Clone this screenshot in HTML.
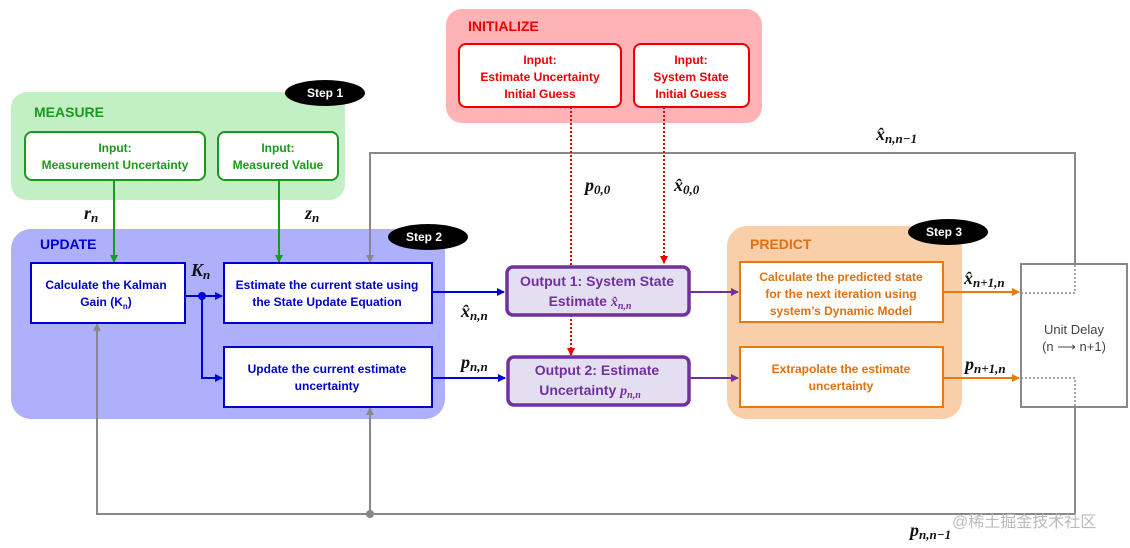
<!DOCTYPE html>
<html><head><meta charset="utf-8"><style>
body{margin:0;background:#fff}
svg{display:block;font-family:"Liberation Sans",sans-serif}
.m{font-family:"Liberation Serif",serif;font-style:italic;font-weight:bold}
.b{font-weight:bold}
</style></head><body>
<svg width="1130" height="548" viewBox="0 0 1130 548">
<defs>
<marker id="ag" markerWidth="8" markerHeight="8" refX="7" refY="4" orient="auto" markerUnits="userSpaceOnUse"><path d="M0,0 L8,4 L0,8z" fill="#1a9a1a"/></marker>
<marker id="ab" markerWidth="8" markerHeight="8" refX="7" refY="4" orient="auto" markerUnits="userSpaceOnUse"><path d="M0,0 L8,4 L0,8z" fill="#0000dd"/></marker>
<marker id="ar" markerWidth="8" markerHeight="8" refX="7" refY="4" orient="auto" markerUnits="userSpaceOnUse"><path d="M0,0 L8,4 L0,8z" fill="#e00"/></marker>
<marker id="ay" markerWidth="8" markerHeight="8" refX="7" refY="4" orient="auto" markerUnits="userSpaceOnUse"><path d="M0,0 L8,4 L0,8z" fill="#888"/></marker>
<marker id="ap" markerWidth="8" markerHeight="8" refX="7" refY="4" orient="auto" markerUnits="userSpaceOnUse"><path d="M0,0 L8,4 L0,8z" fill="#7030a0"/></marker>
<marker id="ao" markerWidth="8" markerHeight="8" refX="7" refY="4" orient="auto" markerUnits="userSpaceOnUse"><path d="M0,0 L8,4 L0,8z" fill="#e87a10"/></marker>
</defs>
<rect x="11" y="92" width="334" height="108" rx="16" fill="#c3efc4"/>
<rect x="446" y="9" width="316" height="114" rx="16" fill="#ffb3b6"/>
<rect x="11" y="229" width="434" height="190" rx="20" fill="#aeb0fb"/>
<rect x="727" y="226" width="235" height="193" rx="20" fill="#f8cfa8"/>
<g class="b" font-size="14">
<text x="34" y="117" fill="#1a9a1a">MEASURE</text>
<text x="468" y="31" fill="#e00">INITIALIZE</text>
<text x="40" y="249" fill="#0000cc">UPDATE</text>
<text x="750" y="249" fill="#e07010">PREDICT</text>
</g>
<g class="b" font-size="12" fill="#fff" text-anchor="middle">
<ellipse cx="325" cy="93" rx="40" ry="13" fill="#000"/><text x="325" y="97">Step 1</text>
<ellipse cx="428" cy="237" rx="40" ry="13" fill="#000"/><text x="424" y="241">Step 2</text>
<ellipse cx="948" cy="232" rx="40" ry="13" fill="#000"/><text x="944" y="236">Step 3</text>
</g>
<g stroke="#888" stroke-width="2" fill="none">
<path d="M370,262 V153 H1075 V264"/>
<path d="M1075,407 V514 H97 V326"/>
<path d="M370,514 V410"/>
</g>
<path d="M370,255 V262" stroke="#888" stroke-width="2" marker-end="url(#ay)"/>
<path d="M97,330 V324" stroke="#888" stroke-width="2" marker-end="url(#ay)"/>
<path d="M370,414 V408" stroke="#888" stroke-width="2" marker-end="url(#ay)"/>
<circle cx="370" cy="514" r="4" fill="#888"/>
<rect x="1021" y="264" width="106" height="143" fill="#fff" stroke="#888" stroke-width="2"/>
<g stroke="#888" stroke-width="1.5" stroke-dasharray="2,2" fill="none">
<path d="M1021,293 H1075 V264"/><path d="M1021,378 H1075 V407"/>
</g>
<text x="1074" y="334" font-size="13" fill="#444" text-anchor="middle">Unit Delay</text>
<text x="1074" y="351" font-size="13" fill="#444" text-anchor="middle">(n ⟶ n+1)</text>
<g fill="#fff" stroke="#1a9a1a" stroke-width="2">
<rect x="25" y="132" width="180" height="48" rx="7"/><rect x="218" y="132" width="120" height="48" rx="7"/>
</g>
<g fill="#1a9a1a" class="b" font-size="12" text-anchor="middle">
<text x="115" y="152">Input:</text><text x="115" y="169">Measurement Uncertainty</text>
<text x="278" y="152">Input:</text><text x="278" y="169">Measured Value</text>
</g>
<path d="M114,180 V262" stroke="#1a9a1a" stroke-width="2" marker-end="url(#ag)"/>
<path d="M279,180 V262" stroke="#1a9a1a" stroke-width="2" marker-end="url(#ag)"/>
<g fill="#fff" stroke="#e00" stroke-width="2">
<rect x="459" y="44" width="162" height="63" rx="7"/><rect x="634" y="44" width="115" height="63" rx="7"/>
</g>
<g fill="#e00" class="b" font-size="12" text-anchor="middle">
<text x="540" y="64">Input:</text><text x="540" y="81">Estimate Uncertainty</text><text x="540" y="98">Initial Guess</text>
<text x="691" y="64">Input:</text><text x="691" y="81">System State</text><text x="691" y="98">Initial Guess</text>
</g>
<g fill="#fff" stroke="#0000cc" stroke-width="2">
<rect x="31" y="263" width="154" height="60"/><rect x="224" y="263" width="208" height="60"/><rect x="224" y="347" width="208" height="60"/>
</g>
<g fill="#0000cc" class="b" font-size="12" text-anchor="middle">
<text x="106" y="289">Calculate the Kalman</text><text x="106" y="306">Gain (K<tspan font-size="8" dy="3">n</tspan><tspan dy="-3">)</tspan></text>
<text x="327" y="289">Estimate the current state using</text><text x="327" y="306">the State Update Equation</text>
<text x="327" y="373">Update the current estimate</text><text x="327" y="390">uncertainty</text>
</g>
<g stroke="#0000dd" stroke-width="2" fill="none">
<path d="M185,296 H222" marker-end="url(#ab)"/>
<path d="M202,296 V378 H222" marker-end="url(#ab)"/>
<path d="M432,292 H504" marker-end="url(#ab)"/>
<path d="M432,378 H505" marker-end="url(#ab)"/>
</g>
<circle cx="202" cy="296" r="4" fill="#0000dd"/>
<g stroke="#e00" stroke-width="2" stroke-dasharray="2,2" fill="none">
<path d="M571,107 V350"/><path d="M664,107 V258"/>
</g>
<path d="M571,348 V355" stroke="#e00" stroke-width="2" marker-end="url(#ar)"/>
<path d="M664,256 V263" stroke="#e00" stroke-width="2" marker-end="url(#ar)"/>
<g fill="#e4dff0" stroke="#7030a0" stroke-width="3.5">
<rect x="507" y="267" width="182" height="48" rx="6"/><rect x="508" y="357" width="181" height="48" rx="6"/>
</g>
<g fill="#7030a0" class="b" font-size="14" text-anchor="middle">
<text x="597" y="286">Output 1: System State</text><text x="590" y="306">Estimate <tspan class="m">x̂<tspan font-size="10" dy="3">n,n</tspan></tspan></text>
<text x="597" y="375">Output 2: Estimate</text><text x="590" y="395">Uncertainty <tspan class="m">p<tspan font-size="10" dy="3">n,n</tspan></tspan></text>
</g>
<path d="M690,292 H738" stroke="#7030a0" stroke-width="2" marker-end="url(#ap)"/>
<path d="M690,378 H738" stroke="#7030a0" stroke-width="2" marker-end="url(#ap)"/>
<g fill="#fff" stroke="#e87a10" stroke-width="2">
<rect x="740" y="262" width="203" height="60"/><rect x="740" y="347" width="203" height="60"/>
</g>
<g fill="#e07010" class="b" font-size="12" text-anchor="middle">
<text x="841" y="281">Calculate the predicted state</text><text x="841" y="298">for the next iteration using</text><text x="841" y="315">system’s Dynamic Model</text>
<text x="841" y="373">Extrapolate the estimate</text><text x="841" y="390">uncertainty</text>
</g>
<path d="M943,292 H1019" stroke="#e87a10" stroke-width="2" marker-end="url(#ao)"/>
<path d="M943,378 H1019" stroke="#e87a10" stroke-width="2" marker-end="url(#ao)"/>
<g class="m" font-size="18" fill="#111">
<text x="84" y="219">r<tspan font-size="13" dy="3">n</tspan></text>
<text x="305" y="219">z<tspan font-size="13" dy="3">n</tspan></text>
<text x="191" y="276">K<tspan font-size="13" dy="3">n</tspan></text>
<text x="461" y="317">x̂<tspan font-size="13" dy="3">n,n</tspan></text>
<text x="461" y="368">p<tspan font-size="13" dy="3">n,n</tspan></text>
<text x="585" y="191">p<tspan font-size="13" dy="3">0,0</tspan></text>
<text x="674" y="191">x̂<tspan font-size="13" dy="3">0,0</tspan></text>
<text x="876" y="140">x̂<tspan font-size="13" dy="3">n,n−1</tspan></text>
<text x="964" y="284">x̂<tspan font-size="13" dy="3">n+1,n</tspan></text>
<text x="965" y="370">p<tspan font-size="13" dy="3">n+1,n</tspan></text>
<text x="910" y="536">p<tspan font-size="13" dy="3">n,n−1</tspan></text>
</g>
<text x="952" y="527" font-size="16" fill="#bbb" font-family="'Liberation Sans','Noto Sans CJK SC',sans-serif">@稀土掘金技术社区</text>
</svg>
</body></html>
